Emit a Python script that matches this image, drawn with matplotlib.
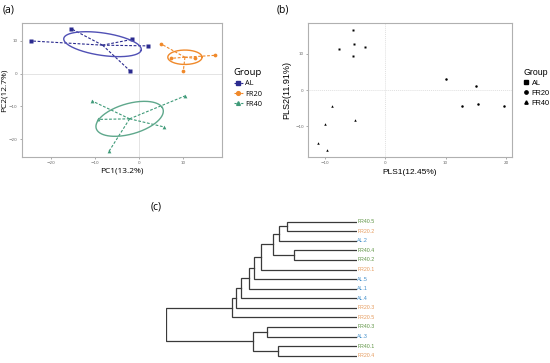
import numpy as np
import matplotlib
matplotlib.use('Agg')
import matplotlib.pyplot as plt
from matplotlib.lines import Line2D

W, H = 550, 363

# ---- panel (a): PCA scores ----
groups = ['AL', 'FR20', 'FR40']
pca_x = {'AL': [-24.5, -15.5, -1.5, 2.0, -2.0],
         'FR20': [4.9, 7.4, 10.1, 12.7, 17.2],
         'FR40': [-10.75, -9.3, -6.8, 5.7, 10.5]}
pca_y = {'AL': [10.0, 13.8, 10.5, 8.5, 0.8],
         'FR20': [9.2, 4.7, 0.9, 4.7, 5.6],
         'FR40': [-8.3, -14.0, -23.7, -16.3, -6.8]}
# ellipse: semi-axes and angle (deg) around group centroid
ell_a = {'AL': 9.0, 'FR20': 3.9, 'FR40': 8.2}
ell_b = {'AL': 3.4, 'FR20': 2.2, 'FR40': 4.5}
ell_ang = {'AL': -12, 'FR20': 0, 'FR40': 25}
ell_dy = {'AL': 0.3, 'FR20': 0.0, 'FR40': 0.0}

# ---- panel (b): PLS-DA scores ----
pls_x = {'AL': [-5.3, -5.25, -7.7, -3.4, -5.4],
         'FR20': [10.0, 15.1, 12.65, 15.4, 19.7],
         'FR40': [-8.9, -10.0, -5.0, -11.1, -9.6]}
pls_y = {'AL': [16.7, 12.75, 11.4, 11.8, 9.5],
         'FR20': [2.9, 1.1, -4.5, -4.0, -4.4],
         'FR40': [-4.3, -9.4, -8.4, -14.5, -16.7]}

# ---- panel (c): dendrogram ----
leaves = ['FR40.5', 'FR20.2', 'AL.2', 'FR40.4', 'FR40.2', 'FR20.1', 'AL.5',
          'AL.1', 'AL.4', 'FR20.3', 'FR20.5', 'FR40.3', 'AL.3', 'FR40.1', 'FR20.4']
# merges: (child1, child2, height); new node ids start at len(leaves)
merges = [(0, 1, 209), (15, 2, 233), (3, 4, 188), (16, 17, 250), (18, 5, 287),
          (19, 6, 307), (20, 7, 324), (21, 8, 348), (22, 9, 362), (23, 10, 374),
          (11, 12, 268), (13, 14, 235), (25, 26, 312), (24, 27, 573)]

pca_col = {'AL': '#2B2B8F', 'FR20': '#F0892A', 'FR40': '#3E9A78'}
ell_col = {'AL': '#5050B5', 'FR20': '#F0892A', 'FR40': '#5FA88C'}
pca_mk = {'AL': 's', 'FR20': 'o', 'FR40': '^'}
leaf_col = {'AL': '#3C8BC8', 'FR20': '#E59A5C', 'FR40': '#5E9444'}

fig = plt.figure(figsize=(W / 100, H / 100), dpi=100)


def ax_at(l, t, r, b):
    return fig.add_axes([l / W, 1 - b / H, (r - l) / W, (b - t) / H])


def style(ax):
    for s in ax.spines.values():
        s.set_color('#B0B0B0')
        s.set_linewidth(0.8)
    ax.tick_params(length=1.5, width=0.5, color='#888888', labelsize=3,
                   labelcolor='#666666', pad=1.5)


# (a)
ax = ax_at(21.7, 23, 222, 157)
style(ax)
ax.axhline(0, color='#E4E4E4', lw=0.7, zorder=0)
ax.axvline(0, color='#E4E4E4', lw=0.7, zorder=0)
t = np.linspace(0, 2 * np.pi, 200)
for g in groups:
    xs = np.array(pca_x[g]); ys = np.array(pca_y[g])
    cx, cy = xs.mean(), ys.mean()
    for x, y in zip(xs, ys):
        ax.plot([cx, x], [cy, y], ls=(0, (2.5, 1.5)), lw=0.8, color=pca_col[g])
    ax.plot(xs, ys, pca_mk[g], ms=2.7, color=pca_col[g], mec='none')
    th = np.deg2rad(ell_ang[g])
    ex = cx + ell_a[g] * np.cos(th) * np.cos(t) - ell_b[g] * np.sin(th) * np.sin(t)
    ey = cy + ell_dy[g] + ell_a[g] * np.sin(th) * np.cos(t) + ell_b[g] * np.cos(th) * np.sin(t)
    ax.plot(ex, ey, color=ell_col[g], lw=1.0)
ax.set_xlim(-26.7, 18.9)
ax.set_ylim(-25.5, 15.5)
ax.set_xticks([-20, -10, 0, 10])
ax.set_yticks([-20, -10, 0, 10])
ax.set_xlabel('PC1(13.2%)', fontsize=6, family='Open Sans', labelpad=2)
ax.set_ylabel('PC2(12.7%)', fontsize=6, family='Open Sans', labelpad=1)
handles = [Line2D([], [], color=pca_col[g], marker=pca_mk[g], ms=2.7, lw=0.8,
                  ls=(0, (2, 1))) for g in groups]
leg = ax.legend(handles, groups, title='Group', loc='upper left',
                bbox_to_anchor=(230 / W, 1 - 64 / H), bbox_transform=fig.transFigure,
                frameon=False, fontsize=5.3, title_fontsize=6.8, handlelength=1.3,
                handletextpad=0.3, labelspacing=0.45, borderpad=0)
leg._legend_box.align = 'left'
for tx in leg.get_texts() + [leg.get_title()]:
    tx.set_family('Open Sans')

# (b)
ax = ax_at(308, 23, 512, 157)
style(ax)
ax.axhline(0, color='#E0E0E0', lw=0.7, ls=(0, (1, 1)), zorder=0)
ax.axvline(0, color='#E0E0E0', lw=0.7, ls=(0, (1, 1)), zorder=0)
for g in groups:
    ax.plot(pls_x[g], pls_y[g], pca_mk[g], ms=1.8, color='black', mec='none')
ax.set_xlim(-12.8, 21.0)
ax.set_ylim(-18.5, 18.5)
ax.set_xticks([-10, 0, 10, 20])
ax.set_yticks([-10, 0, 10])
ax.set_xlabel('PLS1(12.45%)', fontsize=6, family='Liberation Sans', labelpad=3)
ax.set_ylabel('PLS2(11.91%)', fontsize=6.5, family='Liberation Sans', labelpad=3)
handles = [Line2D([], [], color='black', marker=pca_mk[g], ms=2.4, lw=0) for g in groups]
leg = ax.legend(handles, groups, title='Group', loc='upper left',
                bbox_to_anchor=(520 / W, 1 - 64 / H), bbox_transform=fig.transFigure,
                frameon=False, fontsize=5.3, title_fontsize=6.3, handlelength=0.6,
                handletextpad=0.5, labelspacing=0.4, borderpad=0)
leg._legend_box.align = 'left'
for tx in leg.get_texts() + [leg.get_title()]:
    tx.set_family('Liberation Sans')

# (c) dendrogram
ax = ax_at(165.7, 221.7 - 4.785, 356.7, 355.7 + 4.785)
ax.axis('off')
n = len(leaves)
pos = {i: (0.0, float(i)) for i in range(n)}
for k, (c1, c2, h) in enumerate(merges):
    x1, y1 = pos[c1]; x2, y2 = pos[c2]
    ax.plot([x1, h, h, x2], [y1, y1, y2, y2], color='#3A3A3A', lw=0.9,
            solid_joinstyle='miter')
    pos[n + k] = (h, (y1 + y2) / 2)
root_h, root_y = pos[n + len(merges) - 1]
ax.set_xlim(root_h, 0)
ax.set_ylim(n - 0.5, -0.5)
for i, name in enumerate(leaves):
    ax.text(-2, i, name, fontsize=3.8, family='Liberation Sans',
            color=leaf_col[name.split('.')[0]], va='center', ha='left')

# panel tags
fig.text(3 / W, 1 - 10 / H, '(a)', fontsize=7.5, family='Open Sans', va='center')
fig.text(277 / W, 1 - 10 / H, '(b)', fontsize=7.5, family='Open Sans', va='center')
fig.text(151 / W, 1 - 207 / H, '(c)', fontsize=7.5, family='Open Sans', va='center')

fig.savefig('out.png', dpi=100)
